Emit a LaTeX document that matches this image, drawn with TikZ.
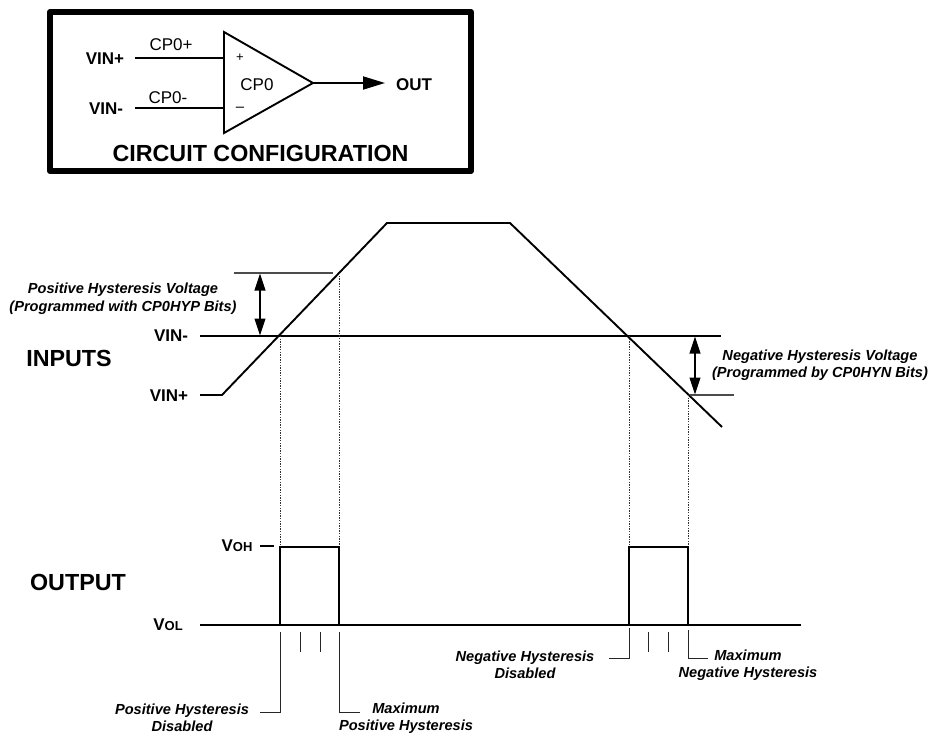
\documentclass[tikz,border=0pt]{standalone}
\usepackage{fontspec}
\setmainfont{Liberation Sans}
\usetikzlibrary{arrows.meta}
\tikzset{
  lab/.style={inner sep=0pt,font=\bfseries\fontsize{17}{17}\selectfont},
  big/.style={inner sep=0pt,font=\bfseries\fontsize{23.3}{23.3}\selectfont},
  reg/.style={inner sep=0pt,font=\fontsize{17}{17}\selectfont},
  note/.style={inner sep=0pt,align=center,font=\bfseries\itshape\fontsize{14.6}{17.5}\selectfont},
  wire/.style={line width=1.9pt,black},
  thin wire/.style={line width=1.1pt,black!70},
  thick wire/.style={line width=2.8pt,black,line join=miter},
  dots/.style={line width=0.8pt,black!80,dash pattern=on 1.3pt off 1.3pt},
  tick/.style={line width=1pt,black!85},
  dim/.style={line width=1.1pt,black,{Triangle[length=17pt,width=11pt]}-{Triangle[length=17pt,width=11pt]}},
  out arrow/.style={wire,-{Triangle[length=22pt,width=13pt]}}
}
\begin{document}
\begin{tikzpicture}[x=1pt,y=-1pt]
\useasboundingbox (0,0) rectangle (930,734);
% circuit box
\draw[line width=6pt,line join=round] (50,12) rectangle (471,171);
\coordinate (tA) at (224,32); \coordinate (tB) at (224,133); \coordinate (tC) at (313,83);
\draw[wire,line join=miter] (tA) -- (tC) -- (tB) -- cycle;
\coordinate (vp) at (135,58); \coordinate (vpe) at (224,58);
\coordinate (vm) at (135,108); \coordinate (vme) at (224,108);
\coordinate (oute) at (385,83);
\draw[wire] (vp) -- (vpe);
\draw[wire] (vm) -- (vme);
\draw[out arrow] (tC) -- (oute);
\node[lab] (l1) at (105,58.5) {VIN+};
\node[lab] (l2) at (106,108.5) {VIN-};
\node[lab] (l3) at (414,85) {OUT};
\node[reg] (l4) at (171,45) {CP0+};
\node[reg] (l5) at (168,98) {CP0-};
\node[reg] (l6) at (257,85) {CP0};
\node[reg,font=\fontsize{13}{13}\selectfont] (l7) at (240,58) {+};
\node[reg,font=\fontsize{15}{15}\selectfont] (l8) at (240,109) {--};
\node[big] (l9) at (260.5,153) {CIRCUIT CONFIGURATION};
% inputs
\coordinate (a1) at (200,395); \coordinate (a2) at (222,395); \coordinate (a3) at (387,223);
\coordinate (a4) at (510,223); \coordinate (a5) at (722,427);
\draw[wire,line join=miter] (a1) -- (a2) -- (a3) -- (a4) -- (a5);
\coordinate (m1) at (200,336); \coordinate (m2) at (721,336);
\draw[wire] (m1) -- (m2);
\coordinate (h1) at (234,273); \coordinate (h2) at (333,273);
\draw[thin wire] (h1) -- (h2);
\coordinate (n1) at (690,395); \coordinate (n2) at (734,395);
\draw[thin wire] (n1) -- (n2);
\coordinate (d1) at (260,273.5); \coordinate (d2) at (260,335.5);
\draw[dim] (d1) -- (d2);
\coordinate (d3) at (695,336.5); \coordinate (d4) at (695,394.5);
\draw[dim] (d3) -- (d4);
% dotted
\draw[dots] (280,336) -- (280,625);
\draw[dots] (339,273) -- (339,625);
\draw[dots] (629,336) -- (629,625);
\draw[dots] (688,395) -- (688,625);
% output
\draw[wire,line width=2.2pt] (200,625) -- (280,625);
\draw[thick wire] (280,625) -- (280,547) -- (339,547) -- (339,625);
\draw[wire,line width=2.2pt] (280,625) -- (339,625);
\draw[line width=1.3pt] (339,625) -- (629,625);
\draw[wire,line width=2.2pt] (629,625) -- (801,625);
\draw[thick wire] (629,625) -- (629,547) -- (688,547) -- (688,625);
\draw[line width=1.1pt] (260,546) -- (274,546);
% ticks
\draw[tick] (280,632) -- (280,712) -- (260,712);
\draw[tick] (339,632) -- (339,712) -- (360,712);
\draw[tick] (300,632) -- (300,652);
\draw[tick] (320,632) -- (320,652);
\draw[tick] (629,628) -- (629,658) -- (609,658);
\draw[tick] (688,630) -- (688,658) -- (708,658);
\draw[tick] (648.5,632) -- (648.5,652);
\draw[tick] (668.5,632) -- (668.5,652);
% labels
\node[note] (n3) at (123,298.5) {Positive Hysteresis Voltage\\(Programmed with CP0HYP Bits)};
\node[note] (n4) at (820,365) {Negative Hysteresis Voltage\\(Programmed by CP0HYN Bits)};
\node[lab] (n5) at (171,335.5) {VIN-};
\node[lab] (n6) at (169,395.5) {VIN+};
\node[big] (n7) at (69,358) {INPUTS};
\node[big] (n8) at (78,582) {OUTPUT};
\node[lab] (n9) at (168,625) {V\fontsize{13}{13}\selectfont OL};
\node[lab] (n10) at (237,546) {V\fontsize{13}{13}\selectfont OH};
\node[note] (n11) at (182,718) {Positive Hysteresis\\Disabled};
\node[note] (n12) at (406,718) {Maximum\\Positive Hysteresis};
\node[note] (n13) at (525,665) {Negative Hysteresis\\Disabled};
\node[note] (n14) at (748,665) {Maximum\\Negative Hysteresis};
\end{tikzpicture}
\end{document}
